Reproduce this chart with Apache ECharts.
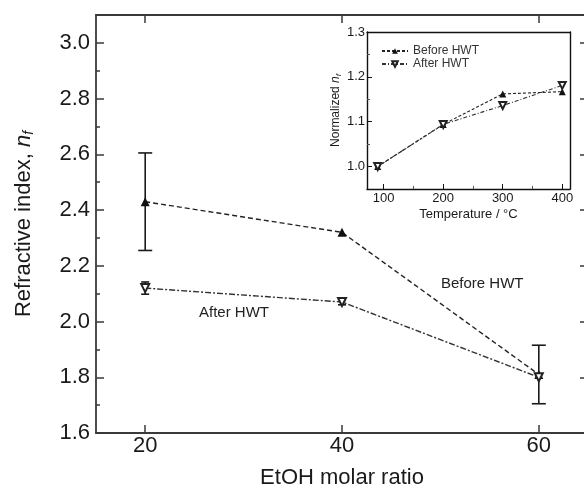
<!DOCTYPE html>
<html>
<head>
<meta charset="utf-8">
<script src="https://cdn.jsdelivr.net/npm/echarts@6/dist/echarts.min.js"></script>
<style>
  html, body { margin: 0; padding: 0; background: #fff; }
  #chart { width: 584px; height: 490px; }
</style>
</head>
<body>
<div id="chart"></div>
<script>
// main plot: refractive index vs EtOH molar ratio
const etohRatio = [20, 40, 60]
const beforeHWT = [2.43, 2.32, 1.81]
const afterHWT = [2.12, 2.07, 1.80]
const beforeErr = [0.175, 0.01, 0.105] // half width of error bar
const afterErr = [0.022, 0.01, 0]
const mainXTicks = [20, 40, 60]
const mainYTicks = [1.6, 1.8, 2.0, 2.2, 2.4, 2.6, 2.8, 3.0]

// inset: normalized n_f vs temperature
const temperature = [90, 200, 300, 400]
const insetBefore = [1.0, 1.094, 1.162, 1.167]
const insetAfter = [1.0, 1.094, 1.136, 1.181]
const insetXTicks = [100, 200, 300, 400]
const insetXMinor = [150, 250, 350]
const insetYTicks = [1.0, 1.1, 1.2, 1.3]
const insetYMinor = [1.05, 1.15, 1.25]

const FONT = 'Liberation Sans, Arial, sans-serif'
const INK = '#1a1a1a'
const AXIS = '#3a3a3a'

const chart = echarts.init(document.getElementById('chart'))

function pairs(xs, ys) {
  return xs.map((x, i) => [x, ys[i]])
}
function errRows(xs, ys, es) {
  return xs.map((x, i) => [x, ys[i] - es[i], ys[i] + es[i]]).filter(r => r[2] - r[1] > 0.001)
}
// error bar drawn through the axis scales
function errorBar(cap) {
  return function (params, api) {
    const x = api.value(0)
    const lo = api.coord([x, api.value(1)])
    const hi = api.coord([x, api.value(2)])
    const st = { stroke: INK, lineWidth: 1.6 }
    return {
      type: 'group',
      children: [
        { type: 'line', shape: { x1: lo[0], y1: lo[1], x2: hi[0], y2: hi[1] }, style: st },
        { type: 'line', shape: { x1: lo[0] - cap, y1: lo[1], x2: lo[0] + cap, y2: lo[1] }, style: st },
        { type: 'line', shape: { x1: hi[0] - cap, y1: hi[1], x2: hi[0] + cap, y2: hi[1] }, style: st }
      ]
    }
  }
}

const mainLine = { lineStyle: { color: AXIS, width: 1.8 } }
const insetLine = { lineStyle: { color: '#111', width: 1.4 } }

const option = {
  backgroundColor: '#fff',
  animation: false,
  textStyle: { fontFamily: FONT, color: INK },
  grid: [
    { left: 96, right: -4, top: 15, bottom: 57, outerBoundsMode: 'none' },
    { left: 367, top: 32, width: 203, height: 157, outerBoundsMode: 'none' }
  ],
  legend: {
    data: ['Before HWT', 'After HWT'],
    left: 376,
    top: 40,
    orient: 'vertical',
    itemWidth: 26,
    itemHeight: 7,
    itemGap: 1,
    textStyle: { fontSize: 12, color: '#333', fontFamily: FONT },
    selectedMode: false
  },
  xAxis: [
    {
      gridIndex: 0, type: 'value', min: 15, max: 65, position: 'bottom',
      axisLine: mainLine,
      axisTick: { inside: true, length: 8, customValues: mainXTicks, lineStyle: { color: AXIS, width: 1.5 } },
      axisLabel: { customValues: mainXTicks, fontSize: 22, margin: 2, color: INK },
      splitLine: { show: false },
      name: 'EtOH molar ratio', nameLocation: 'middle', nameGap: 34,
      nameTextStyle: { fontSize: 22, color: INK }
    },
    {
      gridIndex: 0, type: 'value', min: 15, max: 65, position: 'top',
      axisLine: mainLine,
      axisTick: { inside: true, length: 8, customValues: mainXTicks, lineStyle: { color: AXIS, width: 1.5 } },
      axisLabel: { show: false },
      splitLine: { show: false }
    },
    {
      gridIndex: 1, type: 'value', min: 72, max: 413, position: 'bottom',
      axisLine: insetLine,
      axisTick: { inside: true, length: 5, customValues: insetXTicks, lineStyle: { color: '#111' } },
      axisLabel: { customValues: insetXTicks, fontSize: 13, margin: 3, color: INK },
      splitLine: { show: false },
      name: 'Temperature / °C', nameLocation: 'middle', nameGap: 19,
      nameTextStyle: { fontSize: 13, color: INK }
    },
    {
      gridIndex: 1, type: 'value', min: 72, max: 413, position: 'bottom',
      axisLine: { show: false },
      axisTick: { inside: true, length: 3, customValues: insetXMinor, lineStyle: { color: '#555' } },
      axisLabel: { show: false },
      splitLine: { show: false }
    },
    {
      gridIndex: 1, type: 'value', min: 72, max: 413, position: 'top',
      axisLine: insetLine,
      axisTick: { show: false },
      axisLabel: { show: false },
      splitLine: { show: false }
    }
  ],
  yAxis: [
    {
      gridIndex: 0, type: 'value', min: 1.6, max: 3.1, position: 'left',
      axisLine: mainLine,
      axisTick: { inside: true, length: 8, customValues: mainYTicks, lineStyle: { color: AXIS, width: 1.5 } },
      axisLabel: { customValues: mainYTicks, fontSize: 22, margin: 6, color: INK, formatter: v => v.toFixed(1) },
      splitLine: { show: false },
      name: 'Refractive index, {i|n}{s|f}', nameLocation: 'middle', nameGap: 60,
      nameTextStyle: {
        fontSize: 22, color: INK,
        rich: {
          i: { fontSize: 22, fontStyle: 'italic', color: INK },
          s: { fontSize: 14, fontStyle: 'italic', color: INK, verticalAlign: 'bottom', padding: [10, 0, 0, 0] }
        }
      }
    },
    {
      gridIndex: 0, type: 'value', min: 1.6, max: 3.1, interval: 0.1, position: 'left',
      axisLine: { show: false },
      axisTick: { inside: true, length: 4, lineStyle: { color: AXIS, width: 1.5 } },
      axisLabel: { show: false },
      splitLine: { show: false }
    },
    {
      gridIndex: 0, type: 'value', min: 1.6, max: 3.1, position: 'right',
      axisLine: mainLine,
      axisTick: { inside: true, length: 8, customValues: mainYTicks, lineStyle: { color: AXIS, width: 1.5 } },
      axisLabel: { show: false },
      splitLine: { show: false }
    },
    {
      gridIndex: 0, type: 'value', min: 1.6, max: 3.1, interval: 0.1, position: 'right',
      axisLine: { show: false },
      axisTick: { inside: true, length: 4, lineStyle: { color: AXIS, width: 1.5 } },
      axisLabel: { show: false },
      splitLine: { show: false }
    },
    {
      gridIndex: 1, type: 'value', min: 0.95, max: 1.3, position: 'left',
      axisLine: insetLine,
      axisTick: { inside: true, length: 5, customValues: insetYTicks, lineStyle: { color: '#111' } },
      axisLabel: { customValues: insetYTicks, fontSize: 13, margin: 2, color: INK, formatter: v => v.toFixed(1) },
      splitLine: { show: false },
      name: 'Normalized {i|n}{s|f}', nameLocation: 'middle', nameGap: 22,
      nameTextStyle: {
        fontSize: 12, color: INK,
        rich: {
          i: { fontSize: 12, fontStyle: 'italic', color: INK },
          s: { fontSize: 8, fontStyle: 'italic', color: INK, verticalAlign: 'bottom', padding: [6, 0, 0, 0] }
        }
      }
    },
    {
      gridIndex: 1, type: 'value', min: 0.95, max: 1.3, position: 'left',
      axisLine: { show: false },
      axisTick: { inside: true, length: 3, customValues: insetYMinor, lineStyle: { color: '#555' } },
      axisLabel: { show: false },
      splitLine: { show: false }
    },
    {
      gridIndex: 1, type: 'value', min: 0.95, max: 1.3, position: 'right',
      axisLine: insetLine,
      axisTick: { show: false },
      axisLabel: { show: false },
      splitLine: { show: false }
    }
  ],
  graphic: [
    { type: 'text', left: 441, top: 276, style: { text: 'Before HWT', fontSize: 15, fontFamily: FONT, fill: '#222' } },
    { type: 'text', left: 199, top: 305, style: { text: 'After HWT', fontSize: 15, fontFamily: FONT, fill: '#222' } }
  ],
  series: [
    {
      type: 'custom', xAxisIndex: 0, yAxisIndex: 0, z: 3,
      renderItem: errorBar(7), data: errRows(etohRatio, beforeHWT, beforeErr).filter(r => r[0] !== 40),
      encode: { x: 0, y: [1, 2] }
    },
    {
      type: 'custom', xAxisIndex: 0, yAxisIndex: 0, z: 3,
      renderItem: errorBar(4), data: errRows(etohRatio, afterHWT, afterErr),
      encode: { x: 0, y: [1, 2] }
    },
    {
      name: 'Before HWT (main)', type: 'line', xAxisIndex: 0, yAxisIndex: 0, z: 4,
      data: pairs(etohRatio, beforeHWT),
      symbol: 'triangle', symbolSize: 9,
      itemStyle: { color: '#111' },
      lineStyle: { color: '#222', width: 1.4, type: [5, 3] }
    },
    {
      name: 'After HWT (main)', type: 'line', xAxisIndex: 0, yAxisIndex: 0, z: 4,
      data: pairs(etohRatio, afterHWT),
      symbol: 'emptyTriangle', symbolRotate: 180, symbolSize: 8,
      itemStyle: { color: '#222', borderWidth: 1.4 },
      lineStyle: { color: '#333', width: 1.4, type: [6, 2, 2, 2] }
    },
    {
      name: 'Before HWT', type: 'line', xAxisIndex: 2, yAxisIndex: 4, z: 4,
      data: pairs(temperature, insetBefore),
      symbol: 'triangle', symbolSize: 7,
      itemStyle: { color: '#111' },
      lineStyle: { color: '#222', width: 1.1, type: [3, 2] }
    },
    {
      name: 'After HWT', type: 'line', xAxisIndex: 2, yAxisIndex: 4, z: 4,
      data: pairs(temperature, insetAfter),
      symbol: 'emptyTriangle', symbolRotate: 180, symbolSize: 7,
      itemStyle: { color: '#222', borderWidth: 1.1 },
      lineStyle: { color: '#333', width: 1.1, type: [4, 2, 1, 2] }
    }
  ]
}
chart.setOption(option)
</script>
</body>
</html>
